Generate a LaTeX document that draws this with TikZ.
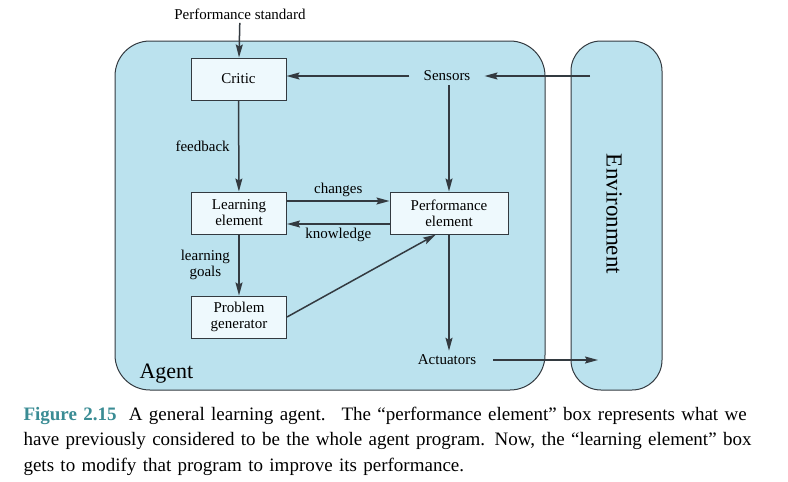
\documentclass[tikz,border=0pt]{standalone}
\usepackage{fontspec}
\setmainfont{Liberation Serif}
\usetikzlibrary{shapes,arrows,arrows.meta}

\definecolor{agentblue}{HTML}{BBE2EE}
\definecolor{boxfill}{HTML}{EEF9FD}
\definecolor{linegray}{HTML}{333A40}
\definecolor{figteal}{HTML}{3A8C94}

\begin{document}
\begin{tikzpicture}[x=1pt,y=-1pt]
        \tikzstyle{region} = [rectangle, draw=linegray, line width=1pt, fill=agentblue, inner sep=0pt]
        \tikzstyle{element} = [rectangle, minimum width=95pt, minimum height=42pt, align=center, draw=linegray, line width=1pt, fill=boxfill, font=\fontsize{15}{16}\selectfont]
        \tikzstyle{signal} = [inner xsep=14pt, inner ysep=4pt, font=\fontsize{15}{16}\selectfont]
        \tikzstyle{tag} = [align=center, font=\fontsize{15}{16}\selectfont]
        \tikzstyle{arrow} = [line width=1.5pt, draw=linegray, -{Stealth[length=13pt,width=7pt,inset=2pt]}]

        \useasboundingbox (0,0) rectangle (788,482);

        % agent and environment
        \node (agent) [region, rounded corners=35pt, minimum width=430pt, minimum height=349pt] at (330,215.5) {};
        \node (env) [region, rounded corners=30pt, minimum width=91pt, minimum height=349pt] at (616.5,215.5) {};
        \node (envname) [rotate=-90, font=\fontsize{23}{23}\selectfont] at (614,214) {Environment};
        \node (agentname) [anchor=base west, font=\fontsize{22}{22}\selectfont] at (136,378) {Agent};

        % elements
        \node (critic) [element] at (238.5,79) {Critic};
        \node (learn) [element] at (239,213) {Learning\\element};
        \node (perf) [element, minimum width=118pt] at (449,213) {Performance\\element};
        \node (prob) [element] at (239,317) {Problem\\generator};
        \node (std) [tag] at (240,14) {Performance standard};
        \node (sensors) [signal] at (447,76) {Sensors};
        \node (act) [signal, inner xsep=17pt] at (447,360) {Actuators};
        \coordinate (envin) at (590,76);
        \coordinate (envout) at (598,360);

        \draw [arrow] (std) -- (critic);
        \draw [arrow] (envin) -- (sensors);
        \draw [arrow] (sensors) -- (sensors -| critic.east);
        \draw [arrow] (sensors.south -| perf.north) -- (perf.north);
        \draw [arrow] (critic) -- node[tag, left=5pt] {feedback} (learn);
        \draw [arrow] ([yshift=12pt]learn.east) -- node[tag, above] {changes} ([yshift=12pt]learn.east -| perf.west);
        \draw [arrow] ([yshift=-11pt]perf.west) -- node[tag, below] {knowledge} ([yshift=-11pt]perf.west -| learn.east);
        \draw [arrow] (learn) -- node[tag, left=5pt] {learning\\goals} (prob);
        \draw [arrow] (prob.east) -- ([xshift=-13pt]perf.south);
        \draw [arrow] (perf.south) -- (perf.south |- act.north);
        \draw [arrow] (act) -- (envout);

        % caption
        \node (caption) [anchor=base west, text width=740pt, align=left, font=\fontsize{19}{25.5}\selectfont] at (20,420) {%
            \makebox[738pt][s]{\textcolor{figteal}{\textbf{Figure 2.15}}\hspace{6pt} A general learning agent. \ The “performance element” box represents what we}\\
            \makebox[738pt][s]{have previously considered to be the whole agent program. Now, the “learning element” box}\\
            gets to modify that program to improve its performance.};
    \end{tikzpicture}
\end{document}
